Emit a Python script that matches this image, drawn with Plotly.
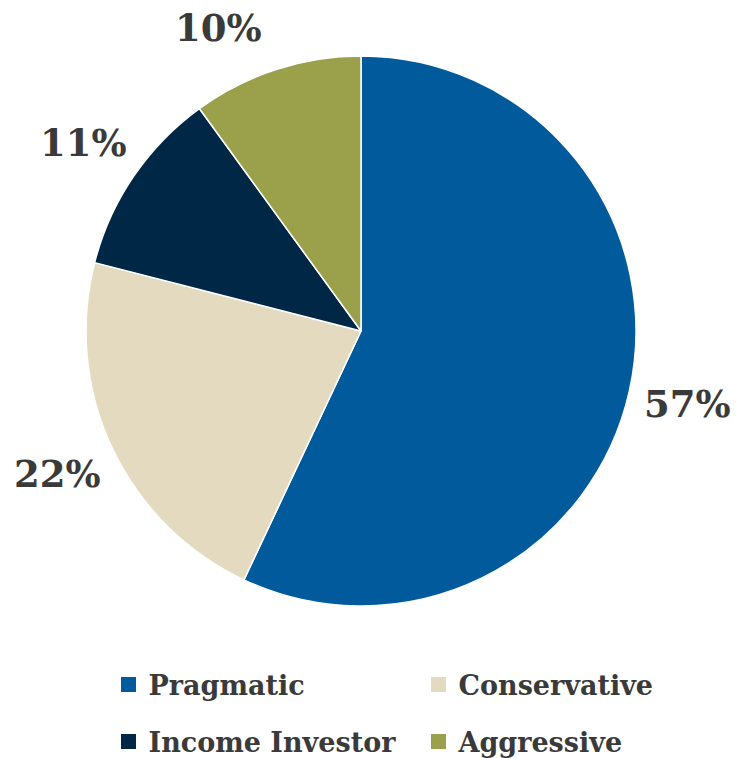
import math
import plotly.graph_objects as go

# Investor profile shares (percent)
profiles = ["Pragmatic", "Conservative", "Income Investor", "Aggressive"]
shares = [57, 22, 11, 10]
colors = ["#005A9C", "#E3DAC0", "#002846", "#9BA04B"]

FONT = "DejaVu Serif"
TEXT_COLOR = "#3a3a3a"

# Plot-area geometry (pixels)
W, H = 736, 758
ML, MR, MT, MB = 86, 100, 56, 152
PW = W - ML - MR
PH = H - MT - MB
CX, CY = ML + PW / 2, MT + PH / 2      # pie centre in pixels

LABEL_RADIUS = 335    # distance of a percent label's centre from the pie centre
LABEL_TOP = 28        # highest allowed label centre (keeps labels on the page)

fig = go.Figure()

fig.add_trace(go.Pie(
    labels=profiles,
    values=shares,
    marker=dict(colors=colors, line=dict(color="white", width=1.5)),
    sort=False,
    direction="clockwise",
    rotation=0,
    textinfo="none",
    showlegend=False,
    hoverinfo="label+percent",
))

# Percent labels placed outside each slice, along the slice's mid-angle;
# labels that would run off the top slide along the label circle.
total = sum(shares)
annotations = []
cum = 0
for share in shares:
    theta = 2 * math.pi * (cum + share / 2) / total
    cum += share
    dx = LABEL_RADIUS * math.sin(theta)
    dy = -LABEL_RADIUS * math.cos(theta)
    if CY + dy < LABEL_TOP:
        dy = LABEL_TOP - CY
        dx = math.copysign(math.sqrt(LABEL_RADIUS ** 2 - dy ** 2), dx)
    annotations.append(dict(
        x=(CX + dx - ML) / PW,
        y=(H - MB - (CY + dy)) / PH,
        xref="paper", yref="paper",
        xanchor="center", yanchor="middle",
        text=f"{share}%",
        showarrow=False,
        font=dict(family=FONT, size=37, color=TEXT_COLOR, weight="bold"),
    ))

# One legend per key: two columns, two rows
legend_ids = ["legend", "legend2", "legend3", "legend4"]
key_centers = [(128.5, 685), (438.5, 685), (128.5, 742), (438.5, 742)]

for name, col, lg in zip(profiles, colors, legend_ids):
    fig.add_trace(go.Scatter(
        x=[None], y=[None], mode="markers", name=name,
        marker=dict(symbol="square", size=15, color=col),
        legend=lg, showlegend=True,
    ))

legend_layout = {}
for lg, (kx, ky) in zip(legend_ids, key_centers):
    legend_layout[lg] = dict(
        x=(kx - 20 - ML) / PW,
        y=(H - MB - ky) / PH,
        xanchor="left",
        yanchor="middle",
        orientation="h",
        font=dict(family=FONT, size=27, color=TEXT_COLOR, weight="bold"),
        bgcolor="rgba(0,0,0,0)",
    )

fig.update_layout(
    width=W,
    height=H,
    margin=dict(l=ML, r=MR, t=MT, b=MB, autoexpand=False),
    paper_bgcolor="white",
    plot_bgcolor="white",
    xaxis=dict(visible=False),
    yaxis=dict(visible=False),
    annotations=annotations,
    **legend_layout,
)

fig.write_html("out.html")
